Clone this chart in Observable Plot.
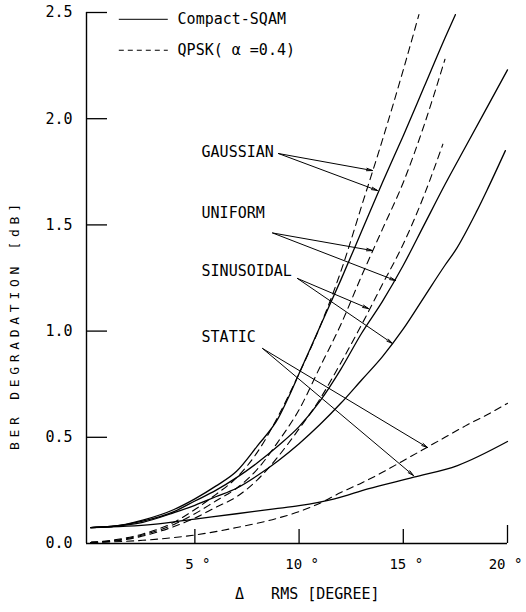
<!DOCTYPE html>
<html><head><meta charset="utf-8">
<script src="https://cdn.jsdelivr.net/npm/d3@7"></script>
<script src="https://cdn.jsdelivr.net/npm/@observablehq/plot@0.6"></script>
<style>
html,body{margin:0;padding:0;background:#fff;}
#chart{width:526px;height:612px;}
</style></head><body><div id="chart"></div>
<script>
// ---- data ----
const xTicks = [5, 10, 15, 20];
const yTicks = [0, 0.5, 1.0, 1.5, 2.0, 2.5];
const xTitle = "Δ\u00a0\u00a0\u00a0RMS [DEGREE]";
const yTitle = "BER DEGRADATION [dB]";
const schemes = ["Compact-SQAM", "QPSK( α =0.4)"];
const noises = ["GAUSSIAN", "UNIFORM", "SINUSOIDAL", "STATIC"];

// Compact-SQAM (solid)
const sqamGaussian = [[0,0.075],[1,0.08],[2.5,0.11],[4,0.16],[5,0.21],[6,0.27],[7,0.34],[8,0.46],[9,0.59],[9.5,0.69],[10,0.8],[11,1.02],[12,1.24],[13,1.47],[14,1.7],[15,1.92],[16,2.15],[17,2.38],[17.5,2.49]];
const sqamUniform = [[0,0.075],[1,0.08],[2.5,0.105],[4,0.15],[5,0.2],[6,0.25],[7,0.31],[8,0.38],[9,0.46],[10,0.55],[11,0.67],[12,0.82],[13,0.99],[14,1.14],[15,1.31],[16,1.5],[17,1.69],[18,1.87],[19,2.05],[20,2.23]];
const sqamSinusoidal = [[0,0.075],[1,0.08],[2.5,0.1],[4,0.145],[5,0.18],[6,0.22],[7,0.26],[8,0.32],[9,0.39],[10,0.47],[11,0.56],[12,0.66],[13,0.77],[14,0.88],[15,1.01],[16,1.16],[17,1.31],[17.5,1.38],[18.5,1.56],[19,1.66],[19.9,1.85]];
const sqamStatic = [[0,0.075],[3,0.09],[5,0.115],[7,0.14],[8.8,0.163],[10,0.178],[11.7,0.21],[13.3,0.257],[15.5,0.312],[17.6,0.367],[20,0.48]];

// QPSK alpha=0.4 (dashed)
const qpskGaussian = [[0,0.005],[1,0.015],[2.5,0.045],[4,0.1],[5,0.16],[6,0.23],[7,0.31],[8,0.43],[9,0.6],[10,0.8],[11,1.02],[12,1.28],[13.1,1.62],[14,1.9],[15,2.23],[15.75,2.49]];
const qpskUniform = [[0,0.005],[1,0.012],[2.5,0.04],[4,0.09],[5,0.14],[6,0.2],[7,0.26],[8,0.35],[9,0.48],[10,0.63],[11,0.83],[12,1.03],[13,1.26],[14,1.48],[15,1.7],[16,1.97],[17,2.28]];
const qpskSinusoidal = [[0,0.005],[1,0.01],[2.5,0.035],[4,0.08],[5,0.12],[6,0.17],[7,0.22],[8,0.3],[9,0.41],[10,0.54],[11,0.68],[12,0.85],[13,1.03],[14,1.22],[15,1.41],[16,1.64],[16.9,1.88]];
const qpskStatic = [[0,0.005],[2.5,0.015],[5,0.04],[7,0.075],[9,0.12],[10,0.15],[11,0.19],[12,0.24],[13,0.285],[14,0.335],[15,0.39],[16,0.445],[17,0.5],[18,0.555],[19,0.605],[20,0.66]];

// annotation anchors (data units) and arrow targets on the curves
const labelAnchors = [[5.32,1.841],[5.32,1.554],[5.32,1.281],[5.32,0.970]];
const arrowStarts = [[9.01,1.836],[8.73,1.462],[9.92,1.248],[8.25,0.918]];
const arrowQpskHeads = [[13.52,1.756],[13.52,1.379],[13.33,1.106],[16.16,0.452]];
const arrowSqamHeads = [[13.76,1.662],[14.63,1.238],[14.48,0.942],[15.49,0.320]];

// legend sample placement (data units)
const legendRows = [2.468, 2.322];
const legendLineX = [1.35, 3.7];
const legendTextX = 4.17;

// ---- build tables ----
const X0 = -0.2;
const curves = [
  ["Compact-SQAM","GAUSSIAN",sqamGaussian],["Compact-SQAM","UNIFORM",sqamUniform],
  ["Compact-SQAM","SINUSOIDAL",sqamSinusoidal],["Compact-SQAM","STATIC",sqamStatic],
  ["QPSK","GAUSSIAN",qpskGaussian],["QPSK","UNIFORM",qpskUniform],
  ["QPSK","SINUSOIDAL",qpskSinusoidal],["QPSK","STATIC",qpskStatic]
];
const rows = [];
curves.forEach(([s,n,pts]) => pts.forEach(([x,y]) => rows.push({scheme:s, noise:n, key:s+n, x, y})));
const solidRows = rows.filter(d => d.scheme === "Compact-SQAM");
const dashRows = rows.filter(d => d.scheme === "QPSK");
const labels = noises.map((n,i) => ({text:n, x:labelAnchors[i][0], y:labelAnchors[i][1]}));
const arrows = [];
noises.forEach((n,i) => {
  arrows.push({x1:arrowStarts[i][0], y1:arrowStarts[i][1], x2:arrowQpskHeads[i][0], y2:arrowQpskHeads[i][1]});
  arrows.push({x1:arrowStarts[i][0], y1:arrowStarts[i][1], x2:arrowSqamHeads[i][0], y2:arrowSqamHeads[i][1]});
});
const legend = schemes.map((s,i) => ({text:s, y:legendRows[i]}));

const chart = Plot.plot({
  width: 526, height: 612,
  marginLeft: 86, marginRight: 19, marginTop: 12, marginBottom: 69,
  x: {domain: [X0, 20]},
  y: {domain: [0, 2.5]},
  style: {fontFamily: "'DejaVu Sans Mono', monospace", fontSize: "15px", color: "#000", background: "#fff"},
  marks: [
    Plot.ruleX([X0], {y1: 0, y2: 2.5, stroke: "#000", strokeWidth: 1.4}),
    Plot.ruleY([0], {x1: X0, x2: 20, stroke: "#000", strokeWidth: 1.4}),
    Plot.axisX(xTicks.filter(d => d < 20), {tickSize: -14, tickFormat: () => "", label: null, strokeWidth: 1.3}),
    Plot.axisX([20], {tickSize: -18, tickFormat: () => "", label: null, strokeWidth: 1.3}),
    Plot.axisX(xTicks.filter(d => d < 20), {tickSize: 0, tickPadding: 16, tickFormat: d => `${d} °`, label: null, dx: 3, fontSize: 14}),
    Plot.axisX([20], {tickSize: 0, tickPadding: 16, tickFormat: d => `${d} °`, label: null, dx: -2, fontSize: 14}),
    Plot.axisY(yTicks.filter(d => d > 0), {tickSize: -21, tickFormat: () => "", label: null, strokeWidth: 1.3}),
    Plot.axisY(yTicks, {tickSize: 0, tickPadding: 14, tickFormat: d => d.toFixed(1), label: null, fontSize: 15}),
    Plot.line(solidRows, {x: "x", y: "y", z: "key", stroke: "#000", strokeWidth: 1.3, curve: "monotone-x"}),
    Plot.line(dashRows, {x: "x", y: "y", z: "key", stroke: "#000", strokeWidth: 1.1, strokeDasharray: "7,5", curve: "monotone-x"}),
    Plot.arrow(arrows, {x1: "x1", y1: "y1", x2: "x2", y2: "y2", stroke: "#000", strokeWidth: 1, headLength: 9, headAngle: 24}),
    Plot.text(labels, {x: "x", y: "y", text: "text", textAnchor: "start", fontSize: 15}),
    Plot.link(legend.slice(0,1), {x1: legendLineX[0], x2: legendLineX[1], y1: "y", y2: "y", stroke: "#000", strokeWidth: 1}),
    Plot.link(legend.slice(1), {x1: legendLineX[0], x2: legendLineX[1], y1: "y", y2: "y", stroke: "#000", strokeWidth: 1.1, strokeDasharray: "5,4"}),
    Plot.text(legend, {x: legendTextX, y: "y", text: "text", textAnchor: "start", fontSize: 15}),
    Plot.text([xTitle], {frameAnchor: "bottom", text: d => d, textAnchor: "start", dx: -62, dy: 55, fontSize: 15})
  ]
});
document.getElementById("chart").appendChild(chart);
// y-axis title, rotated, placed to the left of the tick labels
d3.select(chart).append("text")
  .attr("transform", "translate(15,327) rotate(-90)")
  .attr("text-anchor", "middle")
  .attr("dominant-baseline", "middle")
  .attr("font-family", "'DejaVu Sans Mono', monospace")
  .attr("font-size", 13)
  .attr("fill", "#000")
  .attr("textLength", 246)
  .attr("lengthAdjust", "spacing")
  .text(yTitle);
</script>
</body></html>
